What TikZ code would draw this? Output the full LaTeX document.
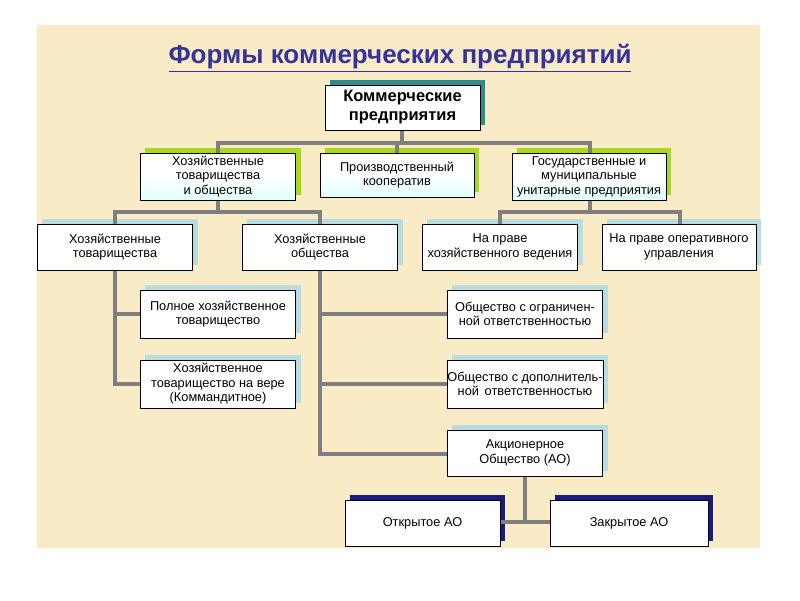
\documentclass[tikz,border=0pt]{standalone}
\usepackage{fontspec}
\setmainfont{Liberation Sans}
\definecolor{bg}{HTML}{F8EBC6}
\definecolor{conn}{HTML}{7F7F7F}
\definecolor{teal}{HTML}{2E8B8B}
\definecolor{lgreen}{HTML}{A8D820}
\definecolor{lblue}{HTML}{B8DCE0}
\definecolor{navy}{HTML}{1A1A80}
\definecolor{title}{HTML}{333399}
\begin{document}
\begin{tikzpicture}[x=1pt,y=-1pt,
  box/.style={draw=black,line width=0.6pt,fill=white,minimum width=155pt,minimum height=46pt,align=center,font=\fontsize{12.8}{14.5}\selectfont,inner sep=0.5pt},
  gbox/.style={box,top color=white,bottom color=cyan!12,middle color=white},
  ln/.style={draw=conn,line width=4pt}]
\useasboundingbox (0,0) rectangle (800,600);
\fill[bg] (37,25) rectangle (760,548);
\node[font=\bfseries\fontsize{26}{30}\selectfont,text=title] (t) at (400,58) {\underline{Формы коммерческих предприятий}};
% shadows
\newcommand{\shd}[5]{\fill[#5] (#1+5,#2-5) rectangle (#3+5,#4-5);}
\shd{325}{85}{480}{130}{teal}
\shd{140}{153}{296}{200}{lgreen}
\shd{320}{153}{474}{197}{lgreen}
\shd{512}{153}{666}{200}{lgreen}
\foreach \a/\b/\c/\d in {37/224/193/270,242/224/398/270,422/224/578/270,602/224/756/270,140/290/296/338,140/360/296/408,447/290/603/338,447/360/603/408,447/430/603/476}{\shd{\a}{\b}{\c}{\d}{lblue}}
\shd{345}{500}{500}{546}{navy}
\shd{550}{500}{708}{546}{navy}
% connectors
\draw[ln] (402,130) -- (402,143);
\draw[ln] (218,153) -- (218,143) -- (590,143) -- (590,153);
\draw[ln] (397,143) -- (397,153);
\draw[ln] (218,200) -- (218,212);
\draw[ln] (115,224) -- (115,212) -- (320,212) -- (320,224);
\draw[ln] (590,200) -- (590,212);
\draw[ln] (500,224) -- (500,212) -- (680,212) -- (680,224);
\draw[ln] (115,270) -- (115,384) -- (140,384);
\draw[ln] (115,314) -- (140,314);
\draw[ln] (320,270) -- (320,454) -- (447,454);
\draw[ln] (320,314) -- (447,314);
\draw[ln] (320,384) -- (447,384);
\draw[ln] (525,476) -- (525,522);
\draw[ln] (500,522) -- (550,522);
% nodes
\node[box,font=\bfseries\fontsize{16.5}{19}\selectfont,minimum width=155pt,minimum height=45pt] (k) at (402.5,107.5) {Коммерческие\\предприятия};
\node[gbox,minimum height=47pt] (h) at (218,176.5) {Хозяйственные\\товарищества\\и общества};
\node[gbox,minimum width=154pt,minimum height=44pt] (p) at (397,175) {Производственный\\кооператив};
\node[gbox,minimum width=154pt,minimum height=47pt] (g) at (589,176.5) {Государственные и\\муниципальные\\унитарные предприятия};
\node[box] (ht) at (115,247) {Хозяйственные\\товарищества};
\node[box] (ho) at (320,247) {Хозяйственные\\общества};
\node[box] (nh) at (500,247) {На праве\\хозяйственного ведения};
\node[box,minimum width=154pt] (no) at (679,247) {На праве оперативного\\управления};
\node[box,minimum height=48pt] (pt) at (218,314) {Полное хозяйственное\\товарищество};
\node[box,minimum height=48pt] (tv) at (218,384) {Хозяйственное\\товарищество на вере\\(Коммандитное)};
\node[box,minimum height=48pt] (oo) at (525,314) {Общество с ограничен-\\ной ответственностью};
\node[box,minimum height=48pt] (od) at (525,384) {Общество с дополнитель-\\ной\, ответственностью};
\node[box] (ao) at (525,453) {Акционерное\\Общество (АО)};
\node[box] (oa) at (422.5,523) {Открытое АО};
\node[box,minimum width=158pt] (za) at (629,523) {Закрытое АО};
\end{tikzpicture}
\end{document}
